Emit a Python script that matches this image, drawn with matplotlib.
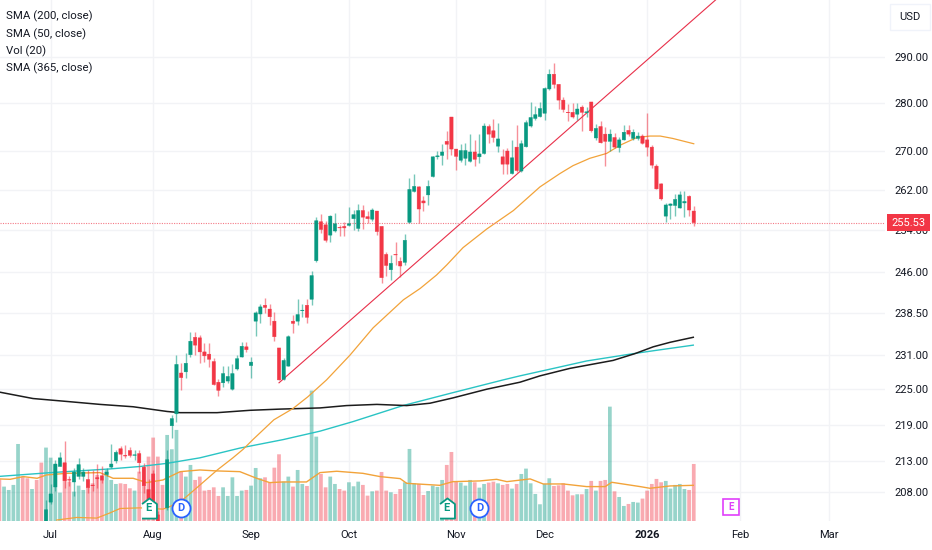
import numpy as np
from matplotlib import pyplot as plt
from matplotlib.patches import Rectangle
from matplotlib.ticker import FixedLocator, FixedFormatter, NullLocator

plt.rcParams['font.family'] = ['Roboto', 'DejaVu Sans']

# daily bars (bar 1 is the first candle inside the pane)
opens = [203, 206.4, 208.8, 212.1, 212.7, 210, 209.6, 210.5, 210.5, 210,
         209.1, 210.3, 210.6, 210.8, 212, 213, 215, 213.9, 214.7, 213.9,
         214.2, 212, 208.4, 210.9, 204.4, 203, 205.5, 218.8, 220.8, 227.8,
         228, 231, 234.1, 234, 231.5, 231.1, 229.8, 226.2, 226.1, 226.4,
         225, 228.5, 230.6, 232.4, 229.1, 237, 238.3, 239.9, 239.2, 237,
         232.2, 226.7, 229, 237, 237, 238.9, 239.9, 241, 248.2, 255.7,
         255.1, 253.1, 253.9, 254.6, 254.8, 255, 256.3, 254.4, 257.9, 256.7,
         256.2, 257.8, 254.8, 249.4, 246.5, 249.4, 248.1, 247.9, 255.6, 261.7,
         262.6, 259.8, 261, 264.7, 268.7, 269, 271.9, 277, 270.3, 268,
         268.4, 267.8, 269.7, 268.7, 269.4, 275, 274.1, 270.9, 268.7, 269.9,
         265.3, 270.7, 265.8, 270.8, 275.1, 276.7, 277.1, 277.8, 283, 286.2,
         284, 280.6, 278, 278, 277.6, 279.1, 277.9, 280.2, 272.6, 275,
         273.4, 271.9, 272.7, 270.6, 272.2, 274.2, 272.5, 272.5, 273, 272.2,
         270.7, 266.8, 263.2, 256.8, 258.9, 258.9, 258.4, 259.4, 260.7, 257.8]
highs = [206.8, 209.2, 213.2, 214.5, 216.2, 210.5, 211.9, 213.5, 211.9, 211.6,
         211.6, 212.5, 212.1, 211.9, 215.8, 214.8, 215.5, 215.6, 215.3, 214.8,
         214.8, 212.7, 210, 211.6, 205, 203.3, 214.8, 220.6, 230.9, 229.5,
         231.3, 235, 235, 234.5, 233, 233, 230.5, 226.8, 229.1, 229.1,
         229.3, 230.9, 233.3, 233.3, 230.6, 238.8, 240.2, 241.3, 240.1, 238.7,
         232.2, 230.5, 234.5, 238.1, 241, 240.1, 241, 246.3, 256.6, 257.2,
         255.9, 257, 257.4, 255.1, 255.6, 258.6, 258.1, 259.1, 258.9, 257.9,
         258.4, 257.8, 254.8, 249.9, 249.3, 251.8, 249, 253.3, 264.3, 265.2,
         262.7, 260.8, 264, 268.9, 269.9, 271.4, 274, 277, 270.3, 271.4,
         271.5, 273.4, 272.2, 273.5, 275.7, 275.6, 276.6, 275.7, 270.3, 270.6,
         272.1, 275.3, 272.2, 276.4, 280.2, 279.3, 280.2, 283.4, 287.3, 288.7,
         284, 281.2, 279.7, 279.9, 279.9, 279.5, 279.1, 280.2, 275.5, 276.2,
         274.8, 274.5, 273.7, 272.9, 275.3, 275.3, 274.4, 273.9, 273.4, 277.9,
         271.2, 267.3, 263.4, 259.3, 259.3, 261.2, 261.8, 261.8, 260.9, 258.8]
lows = [202.5, 206.1, 208.1, 212.1, 208.7, 208.9, 207.3, 210, 209.7, 207.9,
        208.1, 208.7, 209.4, 210.5, 211.9, 212.7, 213.2, 213.5, 213.7, 213.2,
        211.1, 207.9, 205.2, 203.7, 202.4, 201, 205.2, 216.8, 219.5, 224.8,
        227, 230.6, 231, 229.5, 229.7, 228.9, 225.8, 223.8, 225.4, 226,
        224.8, 228.3, 230.6, 231.4, 227, 234.3, 236.7, 238.5, 236.3, 233.5,
        226.5, 226.6, 229, 234.9, 236.3, 237.8, 236.6, 240, 248, 253.6,
        251.7, 251.8, 253.7, 253, 253, 254.8, 254, 253.9, 254.3, 255.4,
        255.9, 253.2, 244, 245.4, 244.6, 247.3, 245.2, 247.3, 255.4, 261.6,
        255.4, 257.9, 259, 264.6, 268.3, 267, 268.3, 269, 266.1, 267.6,
        267, 267.6, 266.8, 267.5, 269.3, 271.5, 271.7, 269.7, 265.2, 265.2,
        265.2, 265.6, 265.6, 270.7, 274.9, 276.4, 276.9, 276.3, 282.8, 283.1,
        278.6, 278.1, 276.2, 276.8, 276.4, 274, 277, 273.8, 272.1, 271.5,
        266.9, 269.8, 270.5, 269.7, 272.1, 273, 272.2, 272.1, 271.3, 268.9,
        266.4, 262.1, 259.9, 255.6, 256.3, 256.8, 258.4, 256.6, 256.9, 254.8]
closes = [205.2, 207.7, 212.5, 213.5, 209.8, 209.9, 211.2, 212.4, 211.2, 208.7,
          209, 210.1, 209.9, 211.2, 212.5, 214.4, 214.1, 213.8, 213.9, 214,
          212.7, 209, 206, 204.2, 202.9, 202, 213.2, 220, 229.3, 227,
          229.5, 233.4, 232.7, 231.5, 230.8, 230.2, 225.8, 224.8, 227.7, 227.2,
          227.7, 230.3, 232.5, 231.9, 229.7, 238.5, 239.6, 239.5, 237.8, 234.2,
          226.6, 230, 234.2, 236.6, 238.2, 239, 237.7, 245.4, 255.9, 254.2,
          252.1, 256.8, 255.3, 254.5, 254.5, 255.3, 257.1, 257.9, 256.6, 256.3,
          258, 253.8, 245, 247.3, 247.7, 249.3, 247.2, 252.1, 262.1, 262.7,
          258.2, 259.4, 262.7, 268.7, 268.9, 269.7, 271.3, 270.3, 268.8, 270,
          270, 269.7, 268.2, 269.3, 275.1, 273.4, 272.7, 272.4, 267.2, 267.2,
          268.5, 265.9, 271.4, 275.8, 276.9, 277.5, 278.8, 283.1, 286.2, 284,
          280.6, 278.6, 277.9, 277, 278.7, 278, 278.1, 274.1, 274.6, 271.6,
          271.9, 273.4, 270.7, 272.2, 273.8, 273.4, 273.8, 273, 271.5, 270.7,
          267, 262.2, 260.2, 259, 259.2, 260.1, 261, 259.7, 258, 255.53]
volumes = [92.2, 79.6, 70.5, 35.9, 60, 49.6, 37.1, 44.6, 39.2, 51.7,
           47.5, 58, 51.7, 64.2, 51.7, 46.7, 47.5, 46.7, 41.3, 38.4,
           62.1, 66.3, 80.9, 104.7, 80.9, 45.5, 108, 90.1, 114.3, 61.7,
           55.9, 70.5, 51.7, 55.9, 38.4, 39.2, 42.5, 31.7, 42.5, 31.7,
           55, 31.7, 38.4, 39.2, 44.6, 66.7, 53.8, 55, 48.4, 67.1,
           83.8, 49.6, 55.9, 43.4, 64.2, 46.7, 44.2, 163.5, 105.9, 59.2,
           42.5, 55.9, 46.7, 40.4, 38.4, 48.8, 43.8, 49.6, 45.5, 32.1,
           37.5, 38.4, 61.7, 38.4, 36.3, 34.2, 40.4, 48.8, 90.5, 47.5,
           46.7, 32.9, 37.9, 44.6, 43, 51.7, 70.5, 86.7, 49.6, 48.4,
           44.6, 51.7, 48.8, 42.1, 46.7, 48.4, 49.6, 47.5, 45.5, 46.7,
           40.9, 46.7, 59.2, 65.9, 47.5, 34.2, 21.3, 46.7, 53.8, 44.2,
           45, 47.5, 38.4, 32.5, 33.8, 33.8, 40.4, 50.5, 38.4, 50.5,
           51.7, 143.4, 37.5, 30.4, 19.2, 21.7, 24.2, 23.4, 28.4, 38.4,
           46.7, 53, 48.8, 50.5, 40.9, 45.5, 46.7, 40.4, 39.2, 71.7]
# volume bars left of the first candle
pre_volumes = [52.5, 43.4, 39.2, 45.5, 96.7, 55.9, 53.8, 40.4, 51.7, 73.4]
pre_up = [0, 1, 1, 1, 1, 0, 0, 1, 0, 0]

# moving averages, sampled along each line (bar number, value)
sma200_x = [-9, -1.8, 5.5, 12.6, 19.7, 27, 29.8, 37.7, 44.8, 51.2, 59.8, 65.5, 72,
            78.4, 83.4, 88.3, 95.6, 102.7, 107, 113.4, 122.7, 127.4, 131.3, 134.9, 139.9]
sma200_y = [224.5, 223.4, 222.9, 222.4, 222, 221.2, 221, 221, 221.4, 221.6, 221.8, 222.2, 222.4,
            222.2, 222.6, 223.5, 225, 226.2, 227.3, 228.6, 230, 231.2, 232.4, 233.2, 234.1]
sma365_x = [-9, 1.9, 14.7, 21.2, 26.9, 34, 42.6, 51.9, 59.8, 66.9, 77.6, 88.3, 99.1,
            102.7, 109.9, 117, 126.3, 131.3, 139.9]
sma365_y = [210.5, 211.1, 211.7, 212.1, 212.6, 213.5, 215.1, 216.5, 217.9, 219.5, 222.2, 224.4, 226.6,
            227.3, 228.6, 229.9, 231.1, 231.7, 232.7]
sma50_x = [3.3, 7.6, 11.9, 14.7, 16.9, 21.2, 26.1, 27.6, 30.4, 33.4, 37.7, 41.1, 43.3, 45.4,
           49.9, 54, 57.2, 61.2, 66.2, 71.2, 77.7, 81.3, 84.8, 87, 90.5, 95.6, 101.3,
           107, 111.3, 114.1, 117.7, 121.3, 124.2, 127.8, 130.6, 132.8, 135.5, 140]
sma50_y = [203.6, 204, 203.9, 204.7, 205.4, 205.5, 205.3, 205.7, 206.8, 208.7, 211.5, 213.5, 214.9, 216.5,
           219.8, 221.7, 223.7, 226.6, 230.9, 235.8, 240.9, 243, 245.5, 247.4, 250.7, 254.3, 257.9,
           262.6, 265.3, 266.9, 268.4, 269.4, 271.1, 272.7, 273, 273, 272.5, 271.4]
volma_x = [-9, -6.7, -3.9, -0.9, 1.1, 5.4, 12.6, 15.4, 19.7, 22.6, 26.1, 29.8, 34, 37.7, 42.6, 46.2,
           49, 51.9, 56.9, 59.8, 63.4, 69, 72.7, 77, 78.4, 85.5, 88.3, 94.1, 97.7, 99.9, 104.9,
           107.7, 112, 117, 121, 122.4, 128.5, 130.6, 134.9, 139.9]
volma_y = [53, 52.5, 55.9, 53.8, 58, 60, 60.9, 53.8, 53.8, 48.4, 51.7, 62.1, 64.2, 63, 62.1, 53.8,
           48.4, 49.2, 49.2, 60.9, 62.6, 60, 55.9, 53.4, 47.5, 45, 49.6, 50.5, 52.5, 49.6, 53,
           46.7, 46.7, 43.4, 43.4, 48.8, 43.4, 41.3, 44.2, 45]
trend_x = [51, 145.2]
trend_y = [226.1, 303.4]
last_price = 255.53

price_ticks = [290, 280, 270, 262, 254, 246, 238.5, 231, 225, 219, 213, 208]
date_ticks = [2, 24, 45, 66, 89, 108, 130, 150, 169]
date_labels = ['Jul', 'Aug', 'Sep', 'Oct', 'Nov', 'Dec', '2026', 'Feb', 'Mar']
earnings_x = [23, 87, 148]
dividend_x = [30, 94]

GREEN = '#089981'
RED = '#f23645'
TXT = '#131722'
GRID = '#f2f3f6'
W, H = 932., 550.
PANE_W, PANE_H = 885., 521.3
VOL_TOP = 652.  # volume that would reach the top of the pane

fig = plt.figure(figsize=(9.32, 5.5), dpi=100)
ax = fig.add_axes([0, 1 - PANE_H / H, PANE_W / W, PANE_H / H])
xy = ax.get_xaxis_transform()  # y in pane fraction, for the volume part

opens, highs, lows, closes = map(np.array, (opens, highs, lows, closes))
n = np.arange(1, len(opens) + 1)
up = closes >= opens
cols = np.where(up, GREEN, RED)

# volume
nv = np.arange(1 - len(pre_volumes), 1)
ax.bar(nv, np.array(pre_volumes) / VOL_TOP, width=.8, transform=xy, zorder=1, alpha=.42,
       color=[GREEN if u else RED for u in pre_up], linewidth=0, snap=False)
ax.bar(n, np.array(volumes) / VOL_TOP, width=.8, transform=xy, zorder=1, alpha=.42,
       color=cols, linewidth=0, snap=False)
ax.plot(volma_x, np.array(volma_y) / VOL_TOP, transform=xy, color='#f2a33a', lw=1, zorder=2)

# moving averages and trend line
ax.plot(sma365_x, sma365_y, color='#2ac4c4', lw=1, zorder=2)
ax.plot(sma200_x, sma200_y, color='#1c1c1c', lw=1.1, zorder=2)
ax.plot(sma50_x, sma50_y, color='#f2a33a', lw=.9, zorder=2)
ax.plot(trend_x, trend_y, color='#e8304a', lw=.8, zorder=2)
ax.axhline(last_price, color='#f47a86', lw=.8, ls=(0, (1, 1.2)), zorder=2)

# candles
ax.vlines(n, lows, highs, colors=cols, lw=1, alpha=.55, zorder=3)
ax.bar(n, closes - opens, bottom=opens, width=.72, color=cols, edgecolor=cols, linewidth=.3, zorder=4, snap=False)

# earnings and dividend flags
house = [(-.37, -.5), (.37, -.5), (.37, .22), (0, .5), (-.37, .22)]
for x in earnings_x[:2]:
    ax.plot(x, .0255, marker=house, ms=14.5, mfc='white', mec=GREEN, mew=1.3, transform=xy, zorder=5)
    ax.text(x, .0255, 'E', color=GREEN, fontsize=8, fontweight='bold', ha='center', va='center', transform=xy, zorder=6)
for x in dividend_x:
    ax.plot(x, .0255, marker='o', ms=13, mfc='white', mec='#2962ff', mew=1.3, transform=xy, zorder=5)
    ax.text(x, .0255, 'D', color='#2962ff', fontsize=8, fontweight='bold', ha='center', va='center', transform=xy, zorder=6)
ax.plot(earnings_x[2], .0265, marker='s', ms=11.5, mfc='white', mec='#e040fb', mew=1.2, transform=xy, zorder=5)
ax.text(earnings_x[2], .0265, 'E', color='#e040fb', fontsize=7, fontweight='bold', ha='center', va='center', transform=xy, zorder=6)

# axes
ax.set_yscale('log')
ax.set_ylim(203.4, 302.9)
ax.set_xlim(-8.87, 181.04)
ax.yaxis.tick_right()
ax.yaxis.set_major_locator(FixedLocator(price_ticks))
ax.yaxis.set_major_formatter(FixedFormatter(['%.2f' % p for p in price_ticks]))
ax.yaxis.set_minor_locator(NullLocator())
ax.set_xticks(date_ticks)
ax.set_xticklabels(date_labels)
ax.tick_params(axis='both', length=0, labelsize=8, labelcolor=TXT)
ax.tick_params(axis='y', pad=6.5)
ax.tick_params(axis='x', pad=6.5)
ax.get_xticklabels()[6].set_fontweight('bold')
ax.grid(True, color=GRID, lw=1, zorder=0)
ax.set_axisbelow(True)
for s in ax.spines.values():
    s.set_visible(False)

# indicator names
for name, y in zip(['SMA (200, close)', 'SMA (50, close)', 'Vol (20)', 'SMA (365, close)'], [16, 34, 51, 68]):
    fig.text(6.5 / W, 1 - y / H, name, color=TXT, fontsize=8.2, va='center')

# currency box and last price tag
fig.add_artist(Rectangle((890 / W, 1 - 30 / H), 40 / W, 26 / H, transform=fig.transFigure,
                         fc='white', ec='#f0f3fa', lw=1, zorder=5))
fig.text(910 / W, 1 - 17 / H, 'USD', color=TXT, fontsize=8, ha='center', va='center', zorder=6)
fig.add_artist(Rectangle((886.7 / W, 1 - 231 / H), 43.3 / W, 17 / H, transform=fig.transFigure,
                         fc=RED, ec='none', zorder=5))
fig.text(909 / W, 1 - 222.7 / H, '%.2f' % last_price, color='white', fontsize=8, ha='center', va='center', zorder=6)

plt.savefig('out.png', dpi=100)
